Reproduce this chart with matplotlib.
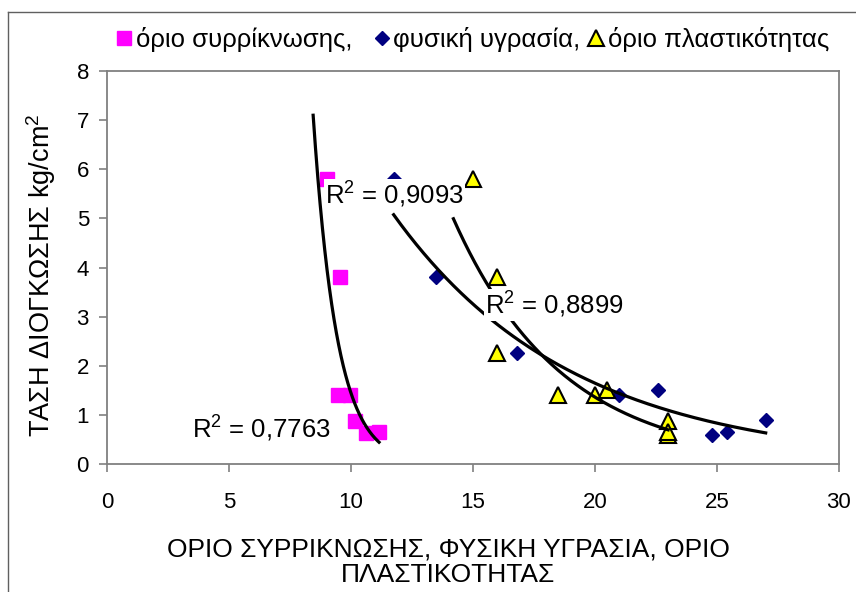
import numpy as np
import matplotlib
matplotlib.use('Agg')
import matplotlib.pyplot as plt
from matplotlib.lines import Line2D

plt.rcParams['font.family'] = ['Liberation Sans', 'DejaVu Sans']
plt.rcParams['mathtext.fontset'] = 'custom'
plt.rcParams['mathtext.rm'] = 'Liberation Sans'
plt.rcParams['mathtext.it'] = 'Liberation Sans'

# όριο συρρίκνωσης
shrink_x = [9.0, 9.55, 9.45, 9.95, 10.15, 10.6, 11.15]
shrink_y = [5.8, 3.8, 1.4, 1.4, 0.87, 0.63, 0.65]
# φυσική υγρασία
moist_x = [11.75, 13.5, 16.8, 21.0, 22.6, 24.8, 25.4, 27.0]
moist_y = [5.8, 3.8, 2.25, 1.4, 1.5, 0.6, 0.65, 0.9]
# όριο πλαστικότητας
plast_x = [15.0, 16.0, 16.0, 18.5, 20.0, 20.5, 23.0, 23.0, 23.0]
plast_y = [5.8, 3.8, 2.25, 1.4, 1.4, 1.5, 0.87, 0.6, 0.65]

labels = ['όριο συρρίκνωσης,  ', 'φυσική υγρασία,', 'όριο πλαστικότητας']
r2_text = ['0,7763', '0,9093', '0,8899']
xticks = [0, 5, 10, 15, 20, 25, 30]
yticks = [0, 1, 2, 3, 4, 5, 6, 7, 8]


def expon_fit(x, y, x0, x1):
    # excel style exponential trendline: ln(y) linear in x
    c, lna = np.polyfit(x, np.log(y), 1)
    xs = np.linspace(x0, x1, 200)
    return xs, np.exp(lna + c * xs)


fig = plt.figure(figsize=(8.56, 5.92), dpi=100)
ax = fig.add_axes([0.125, 0.2162, 0.855, 0.6638])

ax.plot(shrink_x, shrink_y, 's', color='#FF00FF', ms=9.5, mec='#FF00FF', label=labels[0], zorder=3)
ax.plot(moist_x, moist_y, 'D', color='#000080', ms=7.5, mec='#000080', label=labels[1], zorder=3)
ax.plot(plast_x, plast_y, '^', color='#FFFF00', ms=11, mec='black', mew=1.5, label=labels[2], zorder=3)

for (x, y, x0, x1) in [(shrink_x, shrink_y, 8.45, 11.15),
                       (moist_x, moist_y, 11.75, 27.0),
                       (plast_x, plast_y, 14.2, 23.0)]:
    xs, ys = expon_fit(x, y, x0, x1)
    ax.plot(xs, ys, color='black', lw=2.3, zorder=4)

r2_pos = [(3.48, 0.53), (8.93, 5.29), (15.49, 3.05)]
for (px, py), t in zip(r2_pos, r2_text):
    ax.text(px, py, 'R$^{2}$ = ' + t, fontsize=18.5, va='baseline', ha='left', zorder=5,
            bbox=dict(facecolor='white', edgecolor='none', pad=1))

ax.set_xlim(0, 30)
ax.set_ylim(0, 8)
ax.set_xticks(xticks)
ax.set_yticks(yticks)
for s in ax.spines.values():
    s.set_color('#808080')
    s.set_linewidth(1.3)
ax.tick_params(axis='both', colors='#808080', labelcolor='black', labelsize=16, length=6, width=1.2)
ax.tick_params(axis='x', pad=14)
ax.tick_params(axis='y', pad=7)

fig.text(448 / 856, 1 - 562 / 592, 'ΟΡΙΟ ΣΥΡΡΙΚΝΩΣΗΣ, ΦΥΣΙΚΗ ΥΓΡΑΣΙΑ, ΟΡΙΟ\nΠΛΑΣΤΙΚΟΤΗΤΑΣ',
         ha='center', va='center', fontsize=19, linespacing=1.1, multialignment='center')
fig.text(41 / 856, 1 - 275 / 592, 'ΤΑΣΗ ΔΙΟΓΚΩΣΗΣ kg/cm$^{2}$', rotation=90,
         ha='center', va='center', fontsize=19.5)

fig.legend(loc='center', bbox_to_anchor=(0.552, 1 - 39 / 592), ncol=3, frameon=False,
           fontsize=18.5, handlelength=0.6, handletextpad=0.15, columnspacing=0.3,
           borderpad=0, borderaxespad=0)

# outer chart border (top and left edges visible)
fig.add_artist(Line2D([8 / 856, 8 / 856], [0, 1 - 12 / 592], transform=fig.transFigure, color='#606060', lw=1))
fig.add_artist(Line2D([8 / 856, 1], [1 - 12 / 592, 1 - 12 / 592], transform=fig.transFigure, color='#606060', lw=1))

fig.savefig('out.png', dpi=100)
